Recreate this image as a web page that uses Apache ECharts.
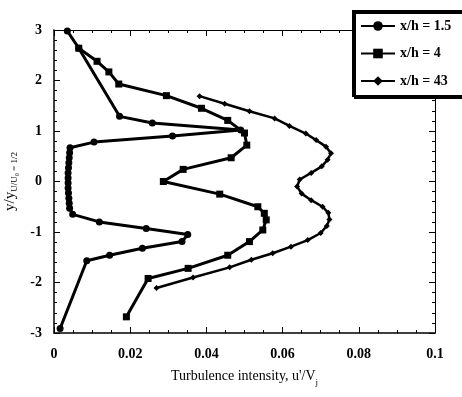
<!DOCTYPE html>
<html>
<head>
<meta charset="utf-8">
<script src="https://cdn.jsdelivr.net/npm/echarts@6/dist/echarts.min.js"></script>
<style>
  html, body { margin: 0; padding: 0; background: #fff; }
  #chart { width: 462px; height: 397px; }
</style>
</head>
<body>
<div id="chart"></div>
<script>
// Turbulence intensity profiles across the jet, at three downstream stations
const seriesNames = ['x/h = 1.5', 'x/h = 4', 'x/h = 43'];

// x/h = 1.5
const u15 = [0.0035, 0.0065, 0.0172, 0.0258, 0.0490, 0.0311, 0.0105, 0.0042,
  0.0041, 0.0040, 0.0039, 0.0038, 0.0037, 0.0037, 0.0037, 0.0037, 0.0038, 0.0039, 0.0040, 0.0041,
  0.0049, 0.0119, 0.0242, 0.0351, 0.0336, 0.0232, 0.0146, 0.0086, 0.0016];
const y15 = [2.98, 2.64, 1.29, 1.16, 1.02, 0.90, 0.78, 0.67,
  0.57, 0.47, 0.37, 0.27, 0.17, 0.07, -0.03, -0.13, -0.23, -0.33, -0.43, -0.53,
  -0.65, -0.80, -0.93, -1.05, -1.19, -1.32, -1.46, -1.57, -2.91];

// x/h = 4
const u4 = [0.0065, 0.0113, 0.0144, 0.0170, 0.0295, 0.0387, 0.0456, 0.0500, 0.0506, 0.0465,
  0.0339, 0.0287, 0.0435, 0.0535, 0.0552, 0.0557, 0.0548, 0.0513, 0.0456, 0.0352, 0.0247, 0.0190];
const y4 = [2.64, 2.38, 2.17, 1.93, 1.70, 1.45, 1.21, 0.96, 0.72, 0.47,
  0.24, 0.00, -0.25, -0.50, -0.63, -0.76, -0.96, -1.19, -1.46, -1.72, -1.92, -2.68];

// x/h = 43
const u43 = [0.0382, 0.0448, 0.0513, 0.0579, 0.0618, 0.0661, 0.0688, 0.0714, 0.0727, 0.0718,
  0.0703, 0.0675, 0.0645, 0.0638, 0.0650, 0.0675, 0.0705, 0.0720, 0.0723, 0.0716,
  0.0700, 0.0666, 0.0622, 0.0574, 0.0518, 0.0461, 0.0365, 0.0269];
const y43 = [1.69, 1.54, 1.39, 1.25, 1.10, 0.95, 0.82, 0.69, 0.56, 0.43,
  0.30, 0.17, 0.04, -0.10, -0.24, -0.37, -0.50, -0.62, -0.75, -0.88,
  -1.02, -1.16, -1.29, -1.42, -1.55, -1.70, -1.90, -2.11];

const xTicks = [0, 0.02, 0.04, 0.06, 0.08, 0.1];
const yTicks = [-3, -2, -1, 0, 1, 2, 3];

const serif = '"Liberation Serif", "DejaVu Serif", serif';
const pair = (xs, ys) => xs.map((v, i) => [v, ys[i]]);

const chart = echarts.init(document.getElementById('chart'), null, { renderer: 'canvas' });

function frameAxis(pos, extra) {
  return Object.assign({
    type: 'value',
    position: pos,
    axisLine: { show: true, onZero: false, lineStyle: { color: '#000', width: 1 } },
    axisTick: { show: true, inside: true, length: 6, lineStyle: { color: '#000', width: 1 } },
    axisLabel: { show: false },
    splitLine: { show: false }
  }, extra);
}

const xMinor = { show: true, splitNumber: 4, length: 3, lineStyle: { color: '#000', width: 1 } };
const yMinor = { show: true, splitNumber: 5, length: 3, lineStyle: { color: '#000', width: 1 } };

chart.setOption({
  animation: false,
  backgroundColor: '#fff',
  grid: { left: 54, right: 27, top: 30, bottom: 64, containLabel: false, outerBoundsMode: 'none' },
  legend: {
    orient: 'vertical',
    left: 353,
    top: 11,
    padding: [8, 20, 8, 7],
    itemWidth: 34,
    itemHeight: 12,
    itemGap: 13.5,
    backgroundColor: '#fff',
    borderColor: '#000',
    borderWidth: 2,
    borderRadius: 0,
    shadowColor: '#000',
    shadowBlur: 0,
    shadowOffsetX: 2,
    shadowOffsetY: 2,
    textStyle: { fontFamily: serif, fontSize: 14, fontWeight: 'bold', color: '#000' },
    data: seriesNames
  },
  xAxis: [
    frameAxis('bottom', {
      min: xTicks[0], max: xTicks[xTicks.length - 1], interval: 0.02,
      minorTick: xMinor,
      axisLine: { show: true, onZero: false, lineStyle: { color: '#000', width: 1.5 } },
      axisLabel: {
        show: true, margin: 14, color: '#000',
        fontFamily: serif, fontSize: 14, fontWeight: 'bold',
        formatter: v => String(+v.toFixed(2))
      },
      name: "Turbulence intensity, u'/V{s|j}",
      nameLocation: 'middle',
      nameGap: 33,
      nameTextStyle: {
        fontFamily: serif, fontSize: 14, color: '#000',
        rich: { s: { fontFamily: serif, fontSize: 9, color: '#000', padding: [12, 0, 0, 0] } }
      }
    }),
    frameAxis('top', {
      min: xTicks[0], max: xTicks[xTicks.length - 1], interval: 0.02,
      minorTick: xMinor
    })
  ],
  yAxis: [
    frameAxis('left', {
      min: yTicks[0], max: yTicks[yTicks.length - 1], interval: 1,
      minorTick: yMinor,
      axisLine: { show: true, onZero: false, lineStyle: { color: '#000', width: 1.5 } },
      axisLabel: {
        show: true, margin: 12, color: '#000',
        fontFamily: serif, fontSize: 14, fontWeight: 'bold'
      },
      name: '{m|y/y}{s|U/U₀ = 1/2}',
      nameLocation: 'middle',
      nameRotate: 90,
      nameGap: 31,
      nameTextStyle: {
        rich: {
          m: { fontFamily: serif, fontSize: 15, color: '#000', lineHeight: 18 },
          s: { fontFamily: serif, fontSize: 9, color: '#000', padding: [10, 0, 0, 0] }
        }
      }
    }),
    frameAxis('right', {
      min: yTicks[0], max: yTicks[yTicks.length - 1], interval: 1,
      minorTick: yMinor
    })
  ],
  series: [
    {
      name: seriesNames[0], type: 'line', data: pair(u15, y15),
      symbol: 'circle', symbolSize: 7,
      lineStyle: { color: '#000', width: 3 },
      itemStyle: { color: '#000' }
    },
    {
      name: seriesNames[1], type: 'line', data: pair(u4, y4),
      symbol: 'rect', symbolSize: 7,
      lineStyle: { color: '#000', width: 3 },
      itemStyle: { color: '#000' }
    },
    {
      name: seriesNames[2], type: 'line', data: pair(u43, y43),
      symbol: 'diamond', symbolSize: 6,
      lineStyle: { color: '#000', width: 2.5 },
      itemStyle: { color: '#000' }
    }
  ]
});
</script>
</body>
</html>
